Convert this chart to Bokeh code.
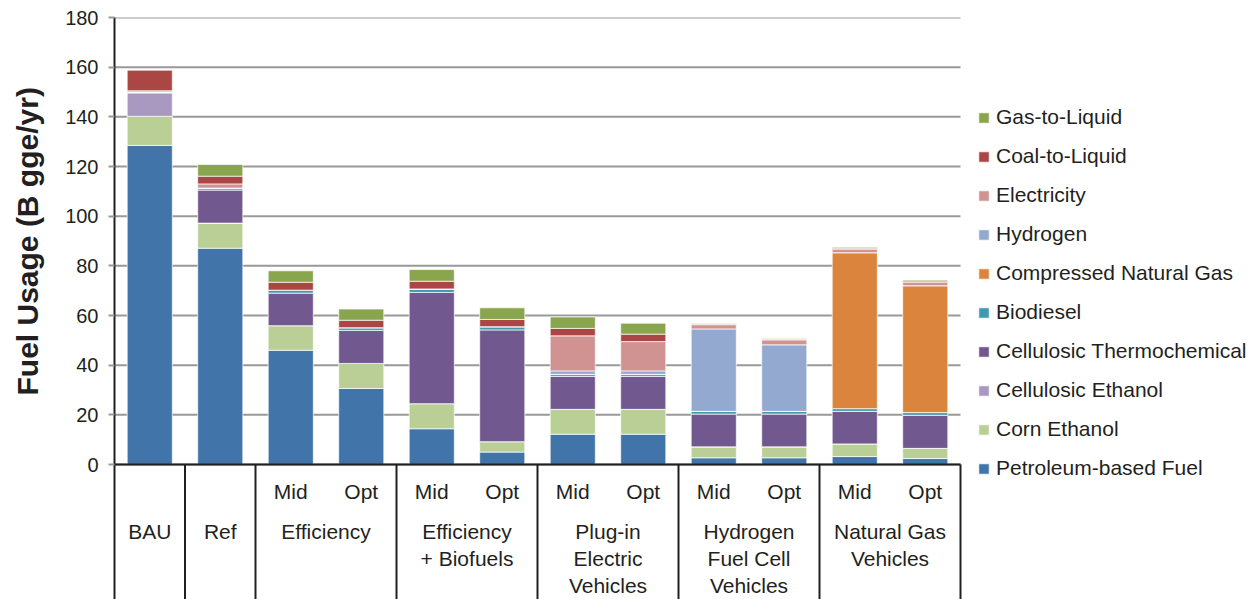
from bokeh.plotting import figure
from bokeh.models import Range1d, FixedTicker, Legend, LegendItem, ColumnDataSource, Title
from bokeh.core.properties import value
from bokeh.embed import file_html
from bokeh.resources import INLINE

# ---------------- data ----------------
scenarios = ["BAU", "Ref", "Eff Mid", "Eff Opt", "EB Mid", "EB Opt", "PEV Mid", "PEV Opt",
             "H2 Mid", "H2 Opt", "NGV Mid", "NGV Opt"]
sublabels = ["", "", "Mid", "Opt", "Mid", "Opt", "Mid", "Opt", "Mid", "Opt", "Mid", "Opt"]
group_names = ["BAU", "Ref", "Efficiency", "Efficiency\n+ Biofuels", "Plug-in\nElectric\nVehicles",
               "Hydrogen\nFuel Cell\nVehicles", "Natural Gas\nVehicles"]
group_sizes = [1, 1, 2, 2, 2, 2, 2]

fuels = ["Petroleum-based Fuel", "Corn Ethanol", "Cellulosic Ethanol", "Cellulosic Thermochemical",
         "Biodiesel", "Compressed Natural Gas", "Hydrogen", "Electricity", "Coal-to-Liquid", "Gas-to-Liquid"]
colors = ["#4174a9", "#b9cf96", "#a999c0", "#71588f", "#4298af", "#db843d", "#93a9cf", "#d19392",
          "#aa4643", "#89a54e"]

petroleum = [128.5, 87.1, 46.0, 30.6, 14.4, 5.0, 12.2, 12.2, 2.7, 2.7, 3.2, 2.4]
corn_ethanol = [11.7, 10.1, 9.9, 10.1, 10.1, 4.2, 10.0, 10.0, 4.4, 4.4, 5.1, 4.1]
cellulosic_ethanol = [9.5, 0, 0, 0, 0, 0, 0, 0, 0, 0, 0, 0]
cellulosic_thermo = [0, 13.3, 13.1, 13.3, 44.8, 45.0, 13.3, 13.3, 13.2, 13.2, 13.1, 13.3]
biodiesel = [0.3, 0.8, 1.2, 1.1, 1.4, 1.3, 0.8, 0.8, 1.1, 1.1, 1.1, 1.1]
cng = [0, 0, 0, 0, 0, 0, 0, 0, 0, 0, 62.8, 51.1]
hydrogen = [0, 0, 0, 0, 0, 0, 1.4, 1.4, 33.2, 26.8, 0, 0]
electricity = [0.5, 1.7, 0, 0, 0, 0, 14.1, 11.8, 1.7, 2.0, 1.4, 1.4]
coal_to_liquid = [8.4, 3.1, 3.2, 3.0, 3.1, 2.9, 3.0, 3.0, 0.2, 0.2, 0.4, 0.5]
gas_to_liquid = [0, 4.7, 4.6, 4.5, 4.7, 4.7, 4.6, 4.4, 0.3, 0.3, 0.4, 0.4]

y_ticks = [0, 20, 40, 60, 80, 100, 120, 140, 160, 180]
y_title = "Fuel Usage (B gge/yr)"

# ---------------- build ----------------
series = [petroleum, corn_ethanol, cellulosic_ethanol, cellulosic_thermo, biodiesel, cng,
          hydrogen, electricity, coal_to_liquid, gas_to_liquid]
n = len(scenarios)
xc = [i + 0.5 for i in range(n)]
data = {"x": xc}
for f, s in zip(fuels, series):
    data[f] = s
src = ColumnDataSource(data)

FONT = value("Liberation Sans")
TXT = "#231f20"
YMIN = -54.36
PLOT_W = 846          # pixel width of the bar area
LEFT = 114
TOTAL_W = 1257
XMAX = n * (TOTAL_W - LEFT) / PLOT_W   # frame extends to the right to host the legend

p = figure(width=TOTAL_W, height=599, x_range=Range1d(0, XMAX), y_range=Range1d(YMIN, 180),
           output_backend="svg", toolbar_location=None, x_axis_location=None,
           min_border_left=LEFT, min_border_right=0, min_border_top=17, min_border_bottom=0)
p.outline_line_color = None
p.xgrid.visible = False
p.ygrid.visible = False

# horizontal grid lines limited to the bar area
p.segment(x0=[0] * len(y_ticks), x1=[n] * len(y_ticks), y0=y_ticks, y1=y_ticks,
          line_color="#999999", line_width=2)

ax = p.yaxis[0]
ax.ticker = FixedTicker(ticks=y_ticks)
ax.axis_line_color = TXT
ax.axis_line_width = 2
ax.major_tick_in = 0
ax.major_tick_out = 6
ax.major_tick_line_color = "#999999"
ax.major_tick_line_width = 2
ax.minor_tick_line_color = None
ax.major_label_text_font = "Liberation Sans"
ax.major_label_text_font_size = "20px"
ax.major_label_text_color = TXT
ax.major_label_standoff = 10
# blank spacer label: pushes the title further left
ax.axis_label = " "
ax.axis_label_text_font_size = "1px"
ax.axis_label_standoff = 7

title = Title(text=y_title, align="left", offset=204, standoff=16,
              text_font="Liberation Sans", text_font_size="30px", text_font_style="bold",
              text_color=TXT)
p.add_layout(title, "left")

rends = p.vbar_stack(fuels, x="x", width=0.64, source=src, fill_color=colors,
                     line_color="white", line_alpha=0.7, line_width=1)

# category box below the axis
bounds = []
acc = 0
for g in group_sizes:
    acc += g
    bounds.append(acc)
p.segment(x0=bounds, x1=bounds, y0=[0] * len(bounds), y1=[YMIN - 5] * len(bounds),
          line_color=TXT, line_width=2)
p.segment(x0=[0], x1=[n], y0=[0], y1=[0], line_color=TXT, line_width=2)

sub_x = [xc[i] for i in range(n) if sublabels[i]]
sub_t = [s for s in sublabels if s]
p.text(x=sub_x, y=[-10.87] * len(sub_x), text=sub_t, text_align="center", text_baseline="middle",
       text_font=FONT, text_font_size="21px", text_color=TXT)

gx, gy, gt = [], [], []
start = 0
for name, size in zip(group_names, group_sizes):
    cx = start + size / 2
    for k, line in enumerate(name.split("\n")):
        gx.append(cx)
        gy.append(-26.98 - 10.87 * k)
        gt.append(line)
    start += size
p.text(x=gx, y=gy, text=gt, text_align="center", text_baseline="middle",
       text_font=FONT, text_font_size="21px", text_color=TXT)

items = [LegendItem(label=f, renderers=[r]) for f, r in zip(fuels, rends)][::-1]
legend = Legend(items=items, location=(PLOT_W + 17, 119), glyph_width=13, glyph_height=13,
                label_height=24, spacing=15, label_standoff=6, padding=0, margin=0,
                border_line_color=None, background_fill_alpha=0,
                label_text_font="Liberation Sans", label_text_font_size="21px",
                label_text_color=TXT)
p.add_layout(legend)

open("out.html", "w").write(file_html(p, INLINE))
